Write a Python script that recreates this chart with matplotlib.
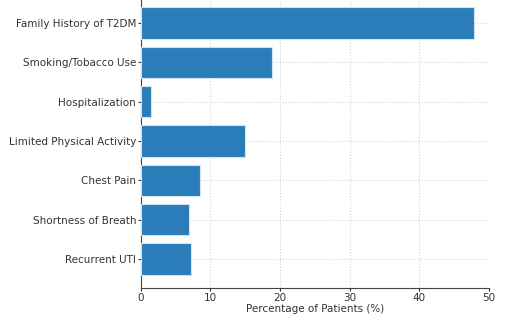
import matplotlib
matplotlib.use("Agg")
import matplotlib.pyplot as plt

categories = ["Family History of T2DM", "Smoking/Tobacco Use", "Hospitalization",
              "Limited Physical Activity", "Chest Pain", "Shortness of Breath", "Recurrent UTI"]
values = [47.8, 18.8, 1.5, 15.0, 8.5, 6.9, 7.2]
xticks = [0, 10, 20, 30, 40, 50]
xlabel = "Percentage of Patients (%)"

fig = plt.figure(figsize=(5.05, 3.23), dpi=100)
ax = fig.add_axes([0.279, 35/323, 0.689, 294/323])
ax.barh(categories, values, height=0.8, color="#2a7db8", edgecolor="#cfe3f3", linewidth=0.8, zorder=3)
ax.invert_yaxis()
ax.set_xlim(0, 50)
ax.set_xticks(xticks)
ax.grid(True, linestyle=":", color="#d4d4d4", linewidth=0.8, zorder=0)
for s in ["top", "right"]:
    ax.spines[s].set_visible(False)
for s in ["left", "bottom"]:
    ax.spines[s].set_color("#444444")
ax.tick_params(labelsize=7.5, colors="#333333", length=2.2, pad=1.2)
ax.set_xlabel(xlabel, fontsize=7.5, color="#333333", labelpad=1)
fig.savefig("out.png", dpi=100)
